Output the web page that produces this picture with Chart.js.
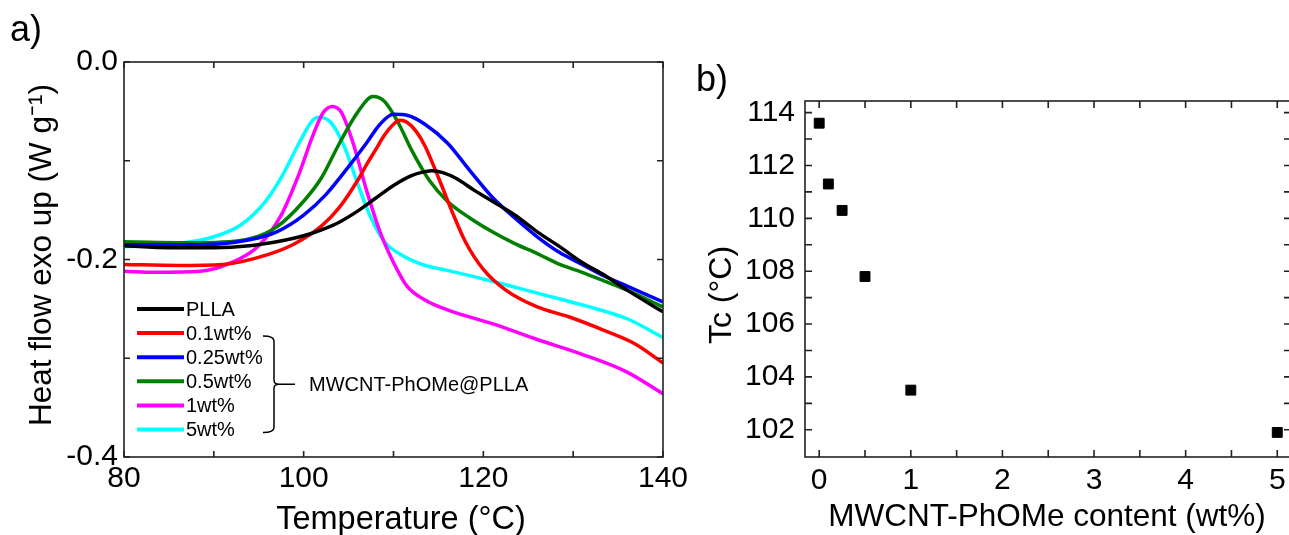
<!DOCTYPE html>
<html><head><meta charset="utf-8">
<script src="https://cdn.jsdelivr.net/npm/chart.js@4.4.1/dist/chart.umd.min.js"></script>
<style>
html,body{margin:0;padding:0;overflow:hidden;background:#fff;width:1289px;height:535px;}
#ca{position:absolute;left:0;top:0;}
#cb{position:absolute;left:690px;top:0;}
.lbl{position:absolute;font-family:'Liberation Sans',Arial,sans-serif;font-size:36px;color:#000;line-height:1;}
</style></head><body>
<canvas id="ca" width="700" height="535"></canvas>
<canvas id="cb" width="610" height="535"></canvas>
<div class="lbl" style="left:10px;top:11px">a)</div>
<div class="lbl" style="left:696px;top:61px">b)</div>
<script>
// ---------- Panel a data ----------
const tempPLLA = [80,85,90,94,97,100,102,104,106,108,110,112,113.5,114.3,115.5,117,119,121,123.5,126,128.5,131,133.5,136,140];
const flowPLLA = [-0.186,-0.188,-0.188,-0.186,-0.182,-0.176,-0.170,-0.162,-0.151,-0.138,-0.125,-0.115,-0.111,-0.110,-0.112,-0.118,-0.130,-0.141,-0.155,-0.172,-0.187,-0.203,-0.216,-0.231,-0.253];
const temp01 = [80,86,91,96,99,102,104,106,107,108,109,110,110.7,111.5,112.5,113.5,115,116.5,118,120,122.5,126,129.5,133.5,137,140];
const flow01 = [-0.205,-0.206,-0.205,-0.195,-0.184,-0.166,-0.147,-0.120,-0.104,-0.089,-0.074,-0.063,-0.059,-0.061,-0.070,-0.085,-0.117,-0.151,-0.182,-0.210,-0.231,-0.248,-0.258,-0.272,-0.286,-0.305];
const temp025 = [80,88.5,94,97,100,102.5,105,107,108.5,110,111.5,113.5,116,118.5,121,123.5,126,128.5,131,133.5,136,140];
const flow025 = [-0.185,-0.185,-0.180,-0.172,-0.155,-0.134,-0.106,-0.082,-0.063,-0.053,-0.054,-0.063,-0.082,-0.110,-0.137,-0.158,-0.177,-0.193,-0.205,-0.217,-0.227,-0.243];
const temp05 = [80,88.5,94,97,100,102,104,106,107.7,109,110.5,112,114,116,118.5,121,123.5,126,128.5,131,133.5,136,140];
const flow05 = [-0.182,-0.183,-0.179,-0.167,-0.141,-0.117,-0.082,-0.051,-0.035,-0.040,-0.061,-0.089,-0.120,-0.141,-0.158,-0.172,-0.184,-0.194,-0.205,-0.213,-0.222,-0.231,-0.248];
const temp1 = [80,83.5,88.5,92,95,97.5,99.5,101,102.2,103.2,104.2,105.5,107,108.5,110,111.5,113.5,116,121,126,131,136,140];
const flow1 = [-0.212,-0.213,-0.212,-0.203,-0.186,-0.155,-0.113,-0.075,-0.051,-0.045,-0.051,-0.082,-0.130,-0.172,-0.203,-0.227,-0.241,-0.251,-0.265,-0.281,-0.296,-0.314,-0.336];
const temp5 = [80,86,90,93,95.5,97.5,99.5,101,101.7,103,104.5,106,107.5,109,111,113.5,116,121,126,131,136,140];
const flow5 = [-0.187,-0.184,-0.177,-0.165,-0.144,-0.117,-0.082,-0.059,-0.056,-0.061,-0.085,-0.123,-0.158,-0.182,-0.196,-0.206,-0.211,-0.222,-0.234,-0.246,-0.260,-0.279];
const seriesLabels = ['PLLA','0.1wt%','0.25wt%','0.5wt%','1wt%','5wt%'];
const groupLabel = 'MWCNT-PhOMe@PLLA';
const xTitleA = 'Temperature (°C)';
const yTitleA = 'Heat flow exo up (W g⁻¹)';
const xTicksA = [80,100,120,140];
const xMinorA = [90,110,130];
const yTicksA = [0,-0.2,-0.4];
const yMinorA = [-0.1,-0.3];

// ---------- Panel b data ----------
const contentWt = [0,0.1,0.25,0.5,1,5];
const tcValues = [113.6,111.3,110.3,107.8,103.5,101.9];
const xTitleB = 'MWCNT-PhOMe content (wt%)';
const yTitleB = 'Tc (°C)';
const xTicksB = [0,1,2,3,4,5];
const xMinorB = [0.5,1.5,2.5,3.5,4.5];
const yTicksB = [102,104,106,108,110,112,114];
const yMinorB = [103,105,107,109,111,113];

const FONT = "'Liberation Sans', Arial, sans-serif";
const zip = (xs, ys) => xs.map((x, i) => ({x, y: ys[i]}));
const colorsA = ['#000000','#ff0000','#0000ff','#007f00','#ff00ff','#00ffff'];
const seriesA = [[tempPLLA,flowPLLA],[temp01,flow01],[temp025,flow025],[temp05,flow05],[temp1,flow1],[temp5,flow5]];

function drawText(ctx, t, rot) {
  ctx.save();
  ctx.translate(t.x, t.y);
  if (rot) ctx.rotate(-Math.PI / 2);
  ctx.font = t.size + 'px ' + FONT;
  ctx.fillStyle = '#000'; ctx.textAlign = 'center'; ctx.textBaseline = 'middle';
  ctx.fillText(t.text, 0, 0);
  ctx.restore();
}

const framePlugin = {
  id: 'frame',
  afterDatasetsDraw(chart, args, o) {
    const {ctx, chartArea: {left, right, top, bottom}, scales: {x, y}} = chart;
    ctx.save();
    ctx.strokeStyle = o.color; ctx.lineWidth = o.width;
    ctx.strokeRect(left, top, right - left, bottom - top);
    ctx.beginPath();
    const L = o.tick;
    o.xt.forEach(v => { const p = x.getPixelForValue(v); ctx.moveTo(p, bottom); ctx.lineTo(p, bottom - L); ctx.moveTo(p, top); ctx.lineTo(p, top + L); });
    o.yt.forEach(v => { const p = y.getPixelForValue(v); ctx.moveTo(left, p); ctx.lineTo(left + L, p); ctx.moveTo(right, p); ctx.lineTo(right - L, p); });
    ctx.stroke();
    ctx.restore();
    if (o.xTitle) drawText(ctx, o.xTitle, false);
    if (o.yTitle) drawText(ctx, o.yTitle, true);
  }
};

const legendPlugin = {
  id: 'bracketLegend',
  afterDraw(chart) {
    const {ctx} = chart;
    const ds = chart.data.datasets;
    const top0 = 309, step = 24.1;
    ctx.save();
    ctx.font = '20px ' + FONT;
    ctx.textBaseline = 'middle';
    ctx.textAlign = 'left';
    ds.forEach((d, i) => {
      const yy = top0 + i * step;
      ctx.strokeStyle = d.borderColor; ctx.lineWidth = 4; ctx.lineCap = 'butt';
      ctx.beginPath(); ctx.moveTo(137, yy); ctx.lineTo(184, yy); ctx.stroke();
      ctx.fillStyle = '#000';
      ctx.fillText(d.label, 186, yy + 1);
    });
    const yTop = top0 + step + 3, yBot = top0 + 5 * step + 3, yMid = (yTop + yBot) / 2;
    ctx.strokeStyle = '#000'; ctx.lineWidth = 1.5;
    ctx.beginPath();
    ctx.moveTo(263, yTop); ctx.quadraticCurveTo(274, yTop, 274, yTop + 5);
    ctx.lineTo(274, yMid - 4); ctx.quadraticCurveTo(274, yMid, 279, yMid);
    ctx.quadraticCurveTo(274, yMid, 274, yMid + 4);
    ctx.lineTo(274, yBot - 5); ctx.quadraticCurveTo(274, yBot, 263, yBot);
    ctx.moveTo(279, yMid); ctx.lineTo(295, yMid);
    ctx.stroke();
    ctx.fillStyle = '#000';
    ctx.fillText(groupLabel, 309, yMid + 1);
    ctx.restore();
  }
};

const setTicks = arr => s => { s.ticks = arr.map(v => ({value: v})); };

new Chart(document.getElementById('ca'), {
  type: 'scatter',
  data: {
    datasets: seriesA.map((s, i) => ({
      label: seriesLabels[i],
      data: zip(s[0], s[1]),
      showLine: true,
      borderColor: colorsA[i],
      backgroundColor: colorsA[i],
      borderWidth: 3.5,
      pointRadius: 0,
      cubicInterpolationMode: 'monotone'
    }))
  },
  options: {
    responsive: false, animation: false, maintainAspectRatio: false,
    layout: {padding: {top: 62, right: 37, left: 0, bottom: 0}},
    plugins: {legend: {display: false}, tooltip: {enabled: false},
      frame: {color: '#222', width: 1.6, tick: 6, xt: xTicksA.concat(xMinorA), yt: yTicksA.concat(yMinorA),
        xTitle: {text: xTitleA, x: 401, y: 520, size: 32.5},
        yTitle: {text: yTitleA, x: 42, y: 255, size: 31.5}}},
    scales: {
      x: {
        type: 'linear', min: 80, max: 140,
        afterBuildTicks: setTicks(xTicksA),
        afterFit: s => { s.height = 78; },
        grid: {display: false, drawTicks: false}, border: {display: false},
        ticks: {padding: 4, color: '#000', font: {family: FONT, size: 30}, maxRotation: 0},
        title: {display: false}
      },
      y: {
        type: 'linear', min: -0.4, max: 0,
        afterBuildTicks: setTicks(yTicksA),
        afterFit: s => { s.width = 124; },
        grid: {display: false, drawTicks: false}, border: {display: false},
        ticks: {padding: 6, color: '#000', font: {family: FONT, size: 30}, callback: v => (Math.abs(v) < 1e-9 ? 0 : v).toFixed(1)},
        title: {display: false}
      }
    }
  },
  plugins: [framePlugin, legendPlugin]
});

new Chart(document.getElementById('cb'), {
  type: 'scatter',
  data: {
    datasets: [{
      label: 'Tc',
      data: zip(contentWt, tcValues),
      pointStyle: 'rect',
      pointRadius: 7,
      borderWidth: 1,
      borderColor: '#000',
      backgroundColor: '#000'
    }]
  },
  options: {
    responsive: false, animation: false, maintainAspectRatio: false,
    layout: {padding: {top: 101, right: 9, left: 0, bottom: 0}},
    plugins: {legend: {display: false}, tooltip: {enabled: false},
      frame: {color: '#222', width: 1.6, tick: 7, xt: xTicksB.concat(xMinorB), yt: yTicksB.concat(yMinorB),
        xTitle: {text: xTitleB, x: 357, y: 517, size: 31.5},
        yTitle: {text: yTitleB, x: 32, y: 295, size: 32}}},
    scales: {
      x: {
        type: 'linear', min: -0.155, max: 5.15,
        afterBuildTicks: setTicks(xTicksB),
        afterFit: s => { s.height = 78; },
        grid: {display: false, drawTicks: false}, border: {display: false},
        ticks: {padding: 6, color: '#000', font: {family: FONT, size: 30}, maxRotation: 0},
        title: {display: false}
      },
      y: {
        type: 'linear', min: 100.97, max: 114.44,
        afterBuildTicks: setTicks(yTicksB),
        afterFit: s => { s.width = 115; },
        grid: {display: false, drawTicks: false}, border: {display: false},
        ticks: {padding: 10, color: '#000', font: {family: FONT, size: 30}},
        title: {display: false}
      }
    }
  },
  plugins: [framePlugin]
});
</script>
</body></html>
